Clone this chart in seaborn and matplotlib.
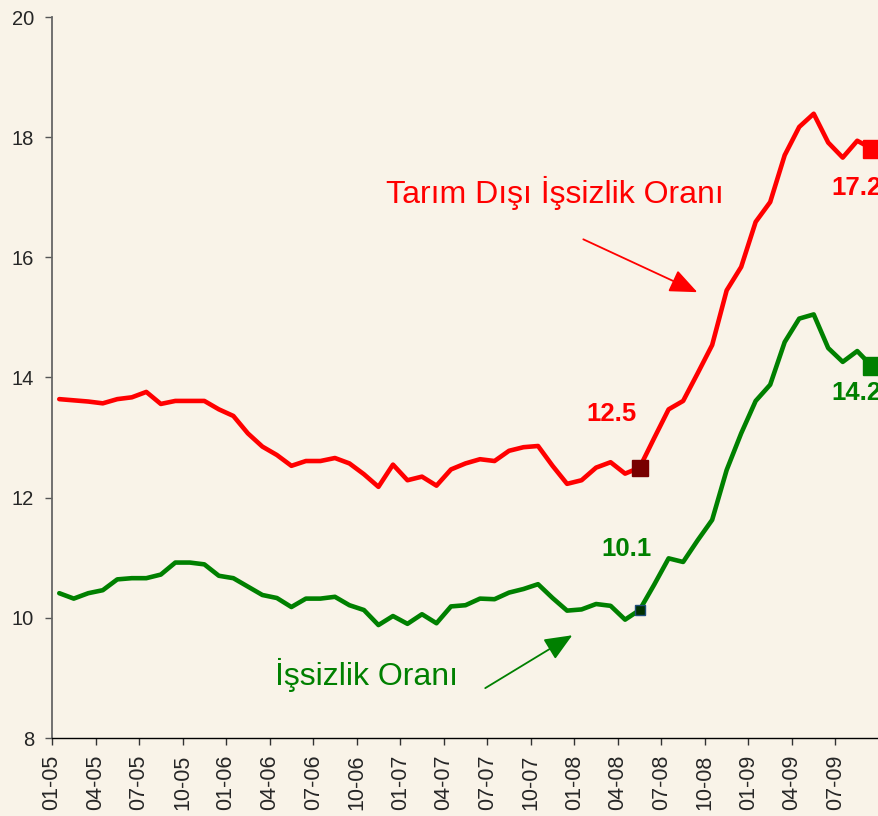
import matplotlib
matplotlib.use("Agg")
import matplotlib.pyplot as plt
import seaborn as sns
import pandas as pd
import numpy as np

# ---- data ----
tick_labels = ["01-05", "04-05", "07-05", "10-05", "01-06", "04-06", "07-06", "10-06",
               "01-07", "04-07", "07-07", "10-07", "01-08", "04-08", "07-08", "10-08",
               "01-09", "04-09", "07-09"]

tarim_disi = [13.64, 13.62, 13.60, 13.57, 13.64, 13.67, 13.76, 13.56, 13.61, 13.61,
              13.61, 13.47, 13.36, 13.07, 12.85, 12.71, 12.53, 12.61, 12.61, 12.66,
              12.57, 12.39, 12.18, 12.55, 12.29, 12.35, 12.20, 12.47, 12.57, 12.64,
              12.61, 12.78, 12.84, 12.86, 12.53, 12.23, 12.29, 12.50, 12.59, 12.40,
              12.50, 12.99, 13.47, 13.61, 14.07, 14.54, 15.45, 15.84, 16.59, 16.92,
              17.70, 18.17, 18.39, 17.91, 17.66, 17.94, 17.81]

issizlik = [10.41, 10.32, 10.41, 10.46, 10.64, 10.66, 10.66, 10.72, 10.92, 10.92,
            10.89, 10.70, 10.66, 10.52, 10.38, 10.33, 10.18, 10.32, 10.32, 10.35,
            10.21, 10.13, 9.88, 10.03, 9.90, 10.06, 9.91, 10.19, 10.21, 10.32,
            10.31, 10.42, 10.48, 10.56, 10.33, 10.12, 10.14, 10.23, 10.20, 9.97,
            10.13, 10.55, 10.99, 10.93, 11.29, 11.63, 12.46, 13.07, 13.61, 13.88,
            14.59, 14.98, 15.05, 14.49, 14.26, 14.44, 14.19]

highlight_idx = 40          # month with the 12.5 / 10.1 labels
label_red_mid = "12.5"
label_green_mid = "10.1"
label_red_end = "17.2"
label_green_end = "14.2"
name_red = "Tarım Dışı İşsizlik Oranı"
name_green = "İşsizlik Oranı"

# ---- style ----
BG = "#F9F3E8"
RED = "#FF0000"
GREEN = "#008000"

sns.set_theme(style="white")
plt.rcParams["font.family"] = ["Liberation Sans", "DejaVu Sans"]

n = len(tarim_disi)
pos = np.arange(n) + 0.5
df = pd.DataFrame({"pos": pos, "red": tarim_disi, "green": issizlik})

fig = plt.figure(figsize=(8.79, 8.16), dpi=100, facecolor=BG)
ax = fig.add_axes([52 / 879, 78 / 816, 827 / 879, 721 / 816])
ax.set_facecolor(BG)

sns.lineplot(data=df, x="pos", y="red", ax=ax, color=RED, linewidth=3.3, clip_on=False)
sns.lineplot(data=df, x="pos", y="green", ax=ax, color=GREEN, linewidth=3.3, clip_on=False)

# highlight markers
ax.plot(pos[highlight_idx], tarim_disi[highlight_idx], marker="s", markersize=12,
        color="#780000", linestyle="none", zorder=5)
ax.plot(pos[highlight_idx], issizlik[highlight_idx], marker="s", markersize=7,
        markerfacecolor="#003000", markeredgecolor="#1F4E79", markeredgewidth=1,
        linestyle="none", zorder=5)
# end markers
ax.plot(pos[-1], tarim_disi[-1], marker="s", markersize=13.5, color=RED,
        linestyle="none", zorder=5, clip_on=False)
ax.plot(pos[-1], issizlik[-1], marker="s", markersize=13.5, color=GREEN,
        linestyle="none", zorder=5, clip_on=False)

ax.set_xlim(0, n)
ax.set_ylim(8, 20)
ax.set_yticks(np.arange(8, 21, 2))
ax.set_xticks(np.arange(0, len(tick_labels) * 3, 3))
ax.set_xticklabels(tick_labels, rotation=90, fontsize=15.5)
ax.tick_params(axis="y", labelsize=14.5, length=5, width=1, pad=8, left=True,
               color="#555555")
ax.tick_params(axis="x", length=5, width=1, pad=7, bottom=True, color="#333333")
ax.set_xlabel("")
ax.set_ylabel("")
for s in ["top", "right"]:
    ax.spines[s].set_visible(False)
ax.spines["left"].set_color("#666666")
ax.spines["left"].set_linewidth(1.3)
ax.spines["bottom"].set_color("#000000")
ax.spines["bottom"].set_linewidth(1.0)
ax.grid(False)

# texts
ax.text(34.69, 17.07, name_red, color=RED, fontsize=23, ha="center", va="center")
ax.text(21.66, 9.05, name_green, color=GREEN, fontsize=23, ha="center", va="center")
ax.text(38.55, 13.39, label_red_mid, color=RED, fontsize=18.5, fontweight="bold",
        ha="center", va="center")
ax.text(39.59, 11.14, label_green_mid, color=GREEN, fontsize=18.5, fontweight="bold",
        ha="center", va="center")
ax.text(53.72, 17.15, label_red_end, color=RED, fontsize=18.5, fontweight="bold",
        ha="left", va="center", clip_on=False)
ax.text(53.72, 13.74, label_green_end, color=GREEN, fontsize=18.5, fontweight="bold",
        ha="left", va="center", clip_on=False)

# arrows
ax.annotate("", xy=(44.48, 15.42), xytext=(36.62, 16.30),
            arrowprops=dict(arrowstyle="-|>,head_length=0.85,head_width=0.36",
                            mutation_scale=20, lw=1.3, color=RED,
                            shrinkA=0, shrinkB=0))
ax.annotate("", xy=(35.86, 9.71), xytext=(29.86, 8.83),
            arrowprops=dict(arrowstyle="-|>,head_length=0.85,head_width=0.36",
                            mutation_scale=20, lw=1.3, color=GREEN,
                            shrinkA=0, shrinkB=0))

fig.savefig("out.png", dpi=100, facecolor=BG)
